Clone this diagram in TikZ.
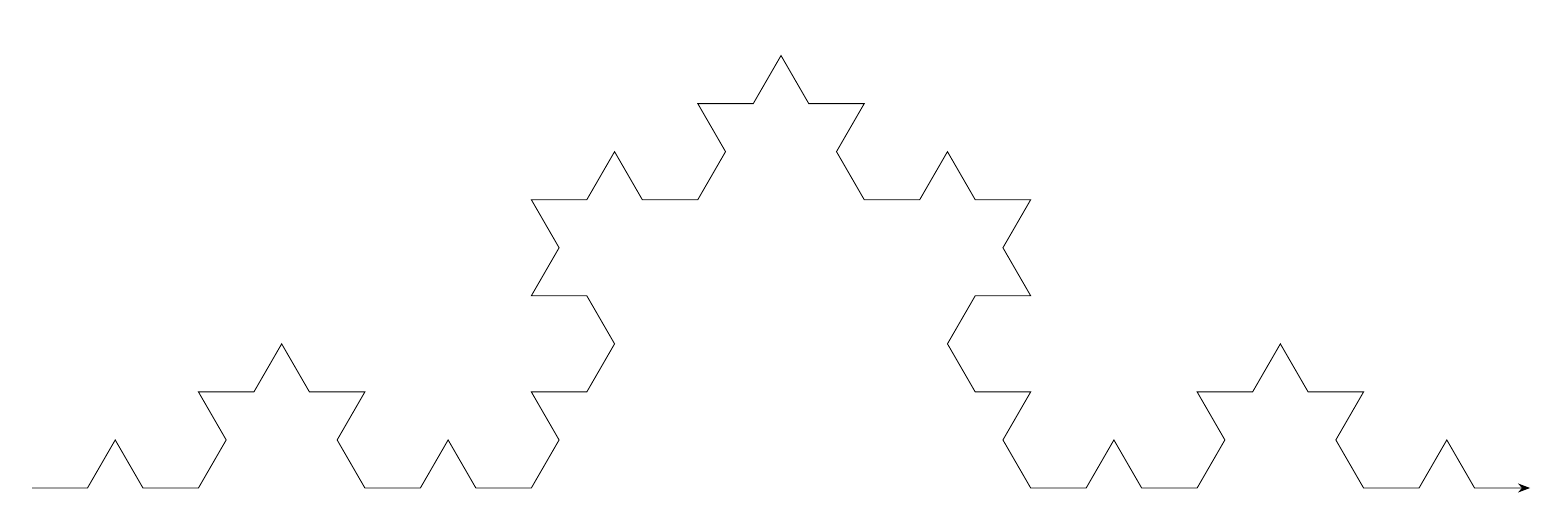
\documentclass[tikz,border=0pt]{standalone}
\usetikzlibrary{arrows.meta,lindenmayersystems}
\pgfdeclarelindenmayersystem{koch}{
  \rule{F -> F+F--F+F}
}
\tikzset{
  curve/.style = {-{Stealth[length=2.4mm]}, line width=0.5pt, black}
}

\begin{document}
\begin{tikzpicture}[x=1cm,y=1cm]
  \useasboundingbox (-0.64,-0.5) rectangle (30.26,9.76);
  % level-3 Koch curve, left to right
  \draw[curve] (0,0) l-system[l-system={koch, axiom=F, order=3, step=1.10963cm, angle=60}];
\end{tikzpicture}
\end{document}
